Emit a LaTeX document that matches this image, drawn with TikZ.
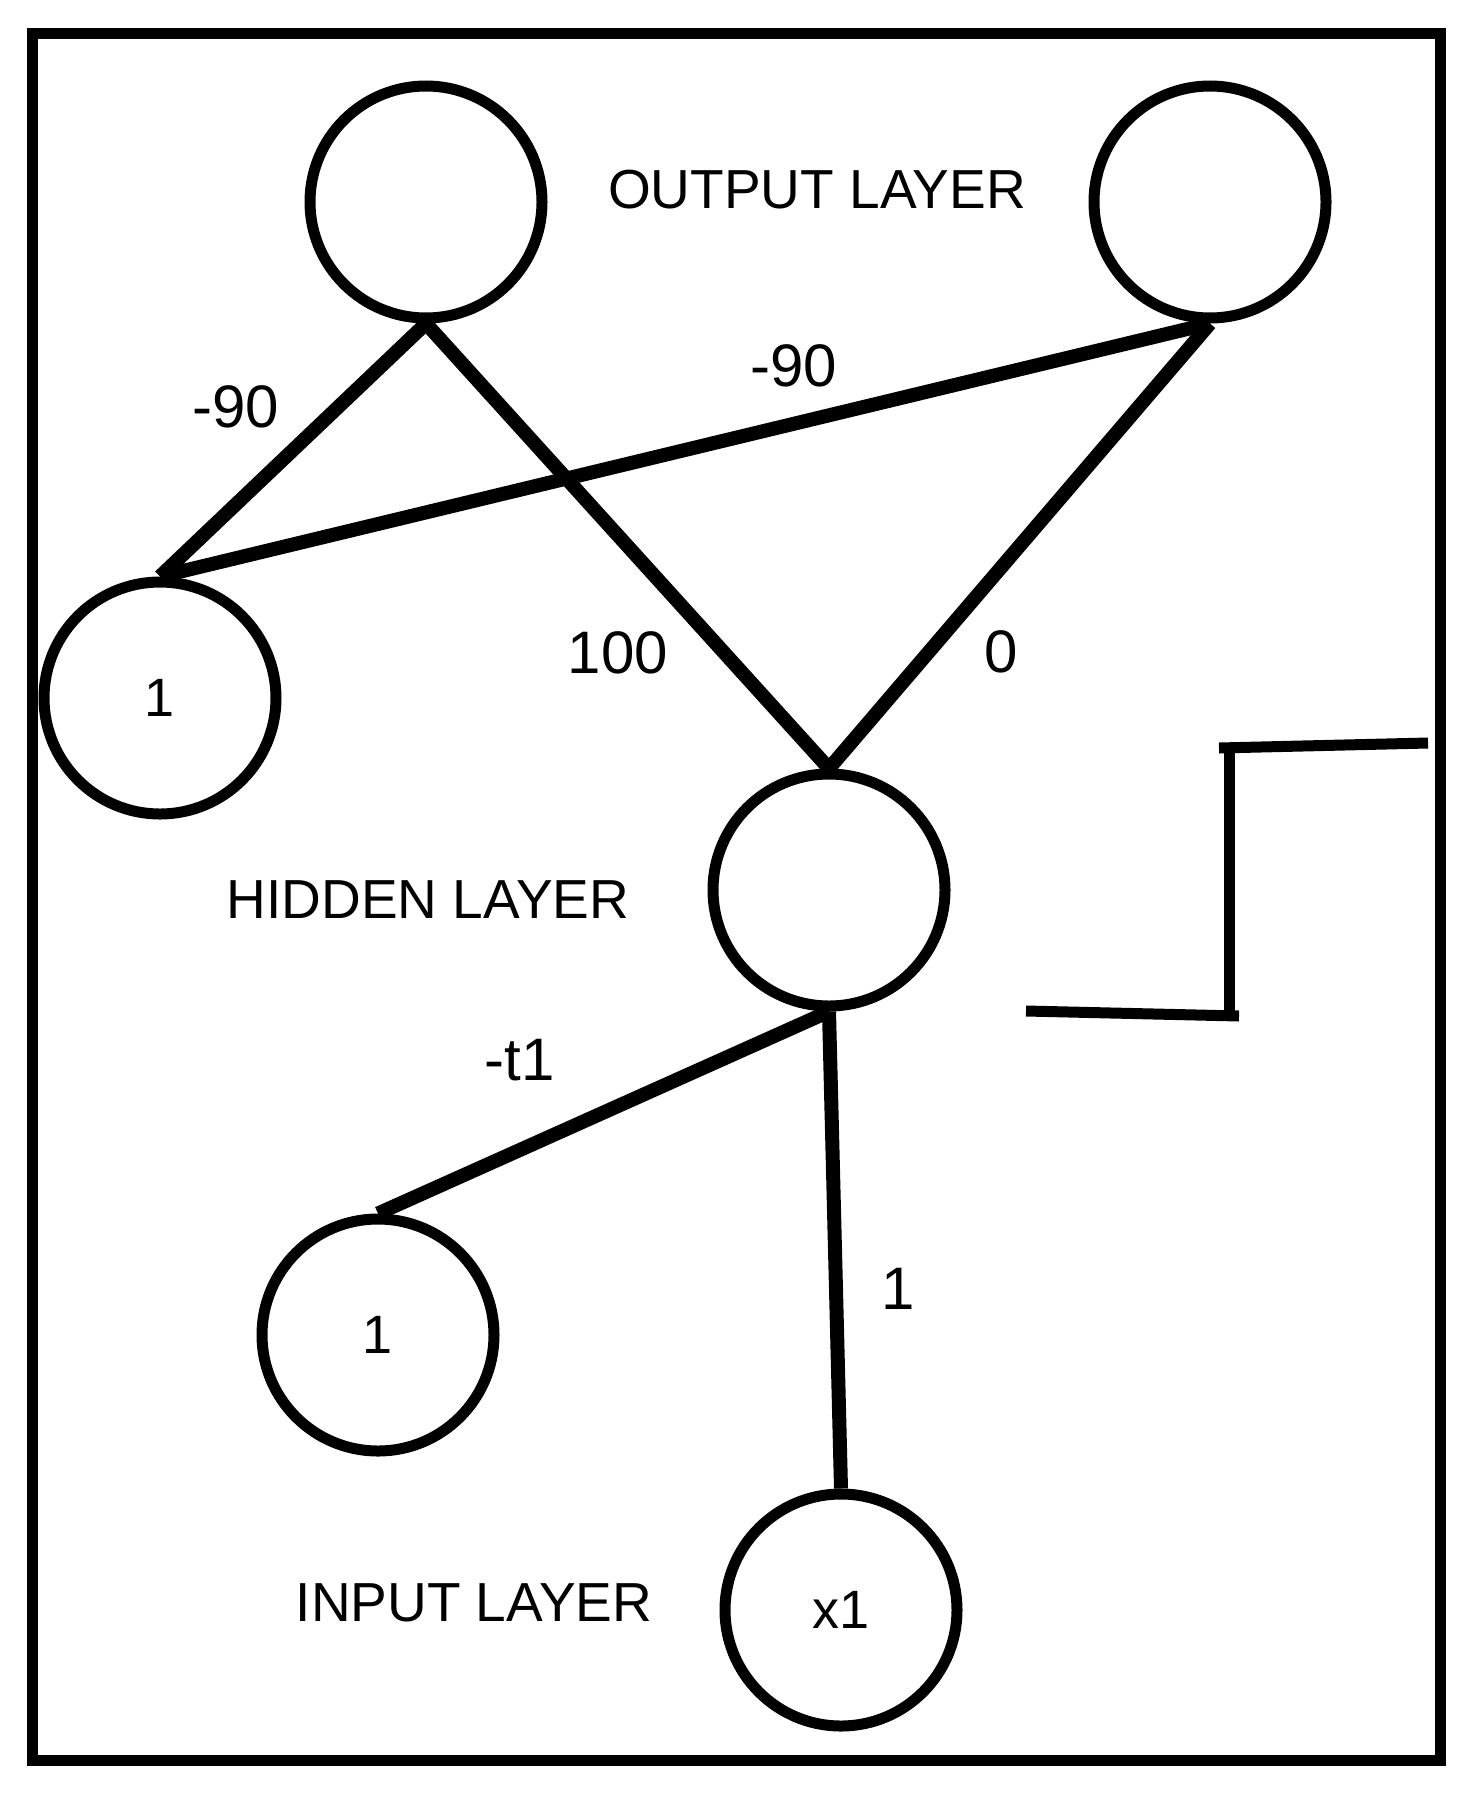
\documentclass[tikz,border=0pt]{standalone}
\usepackage{fontspec}
\setmainfont{Liberation Sans}
\begin{document}
\begin{tikzpicture}[x=1pt,y=-1pt,
  neuron/.style={circle, draw, line width=11pt, minimum size=232pt, inner sep=0pt, font=\fontsize{54}{58}\selectfont},
  title/.style={inner sep=0pt, font=\fontsize{55}{60}\selectfont},
  wlabel/.style={inner sep=0pt, font=\fontsize{60}{66}\selectfont},
  edge/.style={line width=14pt},
  stepline/.style={line width=11pt}]
\useasboundingbox (0,0) rectangle (1473,1793);
\draw[line width=11pt] (32,34) rectangle (1440,1760);

\node[neuron] (o1) at (426,202) {};
\node[neuron] (o2) at (1210,202) {};
\node[neuron] (hb) at (160,698) {1};
\node[neuron] (h) at (829,890) {};
\node[neuron] (ib) at (378,1335) {1};
\node[neuron] (x1) at (841,1610) {x1};

\node[title] (tout) at (817,190) {OUTPUT LAYER};
\node[title] (thid) at (428,900) {HIDDEN LAYER};
\node[title] (tin) at (474,1603) {INPUT LAYER};

\draw[edge] (o1.south) -- (hb.north);
\draw[edge] (o1.south) -- (h.north);
\draw[edge] (o2.south) -- (hb.north);
\draw[edge] (o2.south) -- (h.north);
\draw[edge] (h.south) -- (ib.north);
\draw[edge] (h.south) -- (x1.north);

\node[wlabel] (l1) at (236,407) {-90};
\node[wlabel] (l2) at (618,653) {100};
\node[wlabel] (l3) at (794,366) {-90};
\node[wlabel] (l4) at (1001,652) {0};
\node[wlabel] (l5) at (520,1060) {-t1};
\node[wlabel] (l6) at (898,1289) {1};

\coordinate (s1) at (1026,1011);
\coordinate (s2) at (1239,1016);
\coordinate (s3) at (1229,748);
\coordinate (s4) at (1229,1016);
\coordinate (s5) at (1219,748);
\coordinate (s6) at (1428,743);
\draw[stepline] (s1) -- (s2);
\draw[stepline] (s3) -- (s4);
\draw[stepline] (s5) -- (s6);
\end{tikzpicture}
\end{document}
